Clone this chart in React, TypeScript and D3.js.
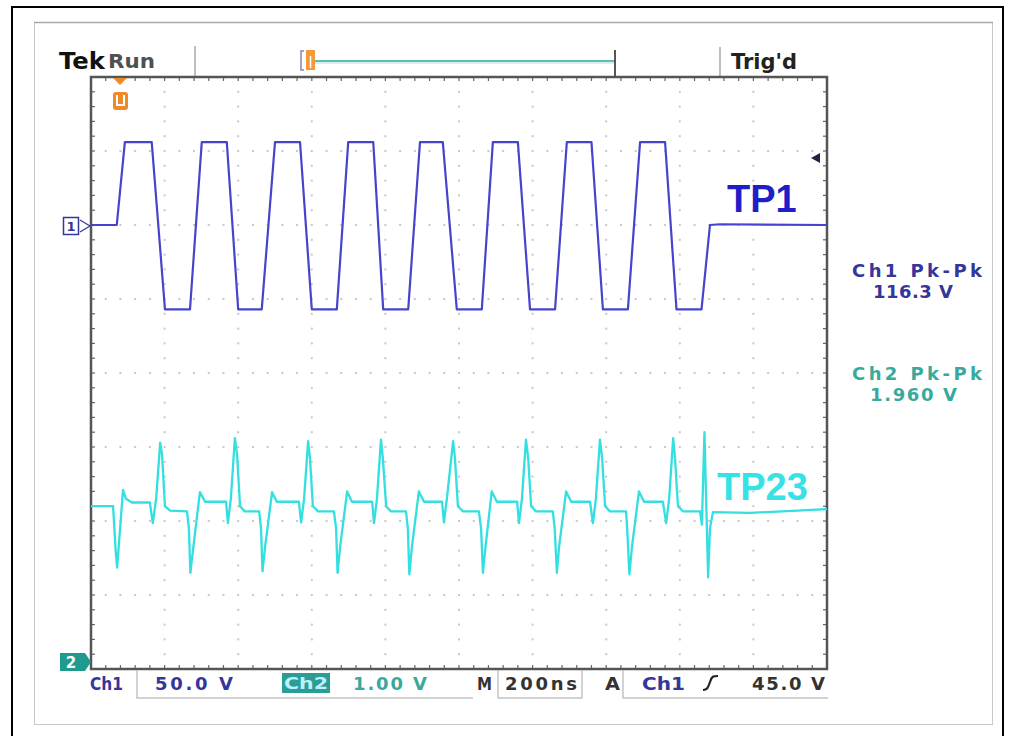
import React from "react";
import * as d3 from "d3";

// ---- Data read from the scope capture ----
// Channel 1 (TP1): time in ns from left edge of screen, volts
const ch1Time = [0, 70, 92, 165, 201, 269, 301, 369, 400, 464, 500, 568, 600, 668, 699, 767, 794, 862, 894, 956, 994, 1062, 1092, 1160, 1193, 1261, 1293, 1360, 1391, 1459, 1492, 1560, 1591, 1659, 1682, 1709, 2000];
const ch1Volts = [0, 0, 56, 56, -57, -57, 56, 56, -57, -57, 56, 56, -57, -57, 56, 56, -57, -57, 56, 56, -57, -57, 56, 56, -57, -57, 56, 56, -57, -57, 56, 56, -57, -57, 0, 0.5, 0];

// Channel 2 (TP23): time in ns, volts (relative to trace baseline)
const ch2Time = [
  0, 60, 67, 71, 76, 87, 95, 111, 160,
  168, 177, 188, 193, 201, 215, 261,
  266, 270, 277, 296, 310, 367,
  372, 380, 391, 397, 405, 418, 457,
  462, 466, 473, 492, 505, 565,
  571, 579, 590, 595, 603, 617, 660,
  666, 670, 677, 696, 709, 764,
  769, 777, 788, 793, 802, 815, 856,
  861, 865, 872, 891, 905, 954,
  959, 967, 984, 989, 997, 1011, 1054,
  1060, 1065, 1072, 1089, 1103, 1158,
  1163, 1171, 1182, 1188, 1196, 1209, 1255,
  1260, 1266, 1272, 1291, 1305, 1356,
  1364, 1372, 1383, 1389, 1397, 1410, 1454,
  1457, 1463, 1470, 1489, 1503, 1554,
  1563, 1571, 1582, 1587, 1595, 1609, 1655,
  1660, 1667, 1671, 1677, 1682, 1690, 1791, 2000,
];
const ch2Volts = [
  0, 0, -0.6, -0.83, -0.5, 0.22, 0.1, 0.05, 0.05,
  -0.23, 0.1, 0.86, 0.7, 0.0, -0.06, -0.07,
  -0.3, -0.9, -0.6, 0.19, 0.06, 0.06,
  -0.23, 0.1, 0.92, 0.7, 0.0, -0.07, -0.07,
  -0.3, -0.88, -0.55, 0.19, 0.06, 0.06,
  -0.22, 0.1, 0.88, 0.65, 0.0, -0.07, -0.07,
  -0.3, -0.9, -0.55, 0.2, 0.06, 0.06,
  -0.23, 0.1, 0.9, 0.65, 0.0, -0.07, -0.07,
  -0.3, -0.92, -0.55, 0.2, 0.06, 0.06,
  -0.22, 0.1, 0.88, 0.65, 0.0, -0.07, -0.07,
  -0.3, -0.9, -0.55, 0.2, 0.06, 0.06,
  -0.23, 0.1, 0.9, 0.65, 0.0, -0.07, -0.07,
  -0.3, -0.9, -0.55, 0.2, 0.06, 0.06,
  -0.23, 0.1, 0.9, 0.65, 0.0, -0.07, -0.07,
  -0.3, -0.92, -0.55, 0.2, 0.06, 0.06,
  -0.23, 0.1, 0.92, 0.65, 0.0, -0.07, -0.07,
  -0.25, 1.0, 0.2, -0.96, -0.3, -0.08, -0.09, -0.04,
];

const traceLabels = ["TP1", "TP23"];
const measLabels = ["Ch1 Pk-Pk", "116.3 V", "Ch2 Pk-Pk", "1.960 V"];
const statusTexts = ["Ch1", "50.0 V", "Ch2", "1.00 V", "M", "200ns", "A", "Ch1", "45.0 V"];

const W = 1010;
const H = 736;
const L = 91, R = 827, T = 77, B = 669;
const NX = 10, NY = 8;

const CH1 = "#4545cc";
const CH2 = "#33dfe0";
const DARKBLUE = "#35359a";
const TEAL = "#3aa99d";
const FONT = "'DejaVu Sans', Verdana, sans-serif";

export default function App() {
  const x = d3.scaleLinear().domain([0, 2000]).range([L, R]);
  const y1 = d3.scaleLinear().domain([-300, 100]).range([B, T]);
  const y2 = d3.scaleLinear().domain([-2.2, 5.8]).range([B, T]);

  const ch1 = ch1Time.map((t, i) => [t, ch1Volts[i]] as [number, number]);
  const ch2 = ch2Time.map((t, i) => [t, ch2Volts[i]] as [number, number]);
  const line1 = d3.line<[number, number]>().x((d) => x(d[0])).y((d) => y1(d[1]));
  const line2 = d3.line<[number, number]>().x((d) => x(d[0])).y((d) => y2(d[1]));

  const dx = (R - L) / NX;
  const dy = (B - T) / NY;

  // grid dots
  const dots: JSX.Element[] = [];
  for (let i = 1; i < NX; i++) {
    const gx = L + i * dx;
    for (let k = 1; k < NY * 5; k++) {
      const gy = T + (k * dy) / 5;
      dots.push(<rect key={`v${i}-${k}`} x={gx - 1} y={gy - 1} width={2} height={2} fill="#c8c8c8" />);
    }
  }
  for (let j = 1; j < NY; j++) {
    const gy = T + j * dy;
    for (let k = 1; k < NX * 5; k++) {
      const gx = L + (k * dx) / 5;
      if (k % 5 === 0) continue;
      dots.push(<rect key={`h${j}-${k}`} x={gx - 1} y={gy - 1} width={2} height={2} fill="#c8c8c8" />);
    }
  }

  // frame ticks
  const ticks: JSX.Element[] = [];
  for (let k = 1; k < NX * 5; k++) {
    const gx = L + (k * dx) / 5;
    ticks.push(<line key={`tt${k}`} x1={gx} x2={gx} y1={T} y2={T + 4} stroke="#666" strokeWidth={1.2} />);
    ticks.push(<line key={`tb${k}`} x1={gx} x2={gx} y1={B} y2={B - 4} stroke="#666" strokeWidth={1.2} />);
  }
  for (let k = 1; k < NY * 5; k++) {
    const gy = T + (k * dy) / 5;
    ticks.push(<line key={`tl${k}`} x1={L} x2={L + 4} y1={gy} y2={gy} stroke="#666" strokeWidth={1.2} />);
    ticks.push(<line key={`tr${k}`} x1={R} x2={R - 4} y1={gy} y2={gy} stroke="#666" strokeWidth={1.2} />);
  }

  const st = { fontFamily: FONT, fontWeight: 700 as const, fontSize: 18 };

  return (
    <svg width={W} height={H} style={{ position: "absolute", left: 0, top: 0, background: "#fff" }}>
      <rect x={0} y={0} width={W} height={H} fill="#fff" />
      {/* outer black frame */}
      <line x1={11} x2={1004} y1={7} y2={7} stroke="#000" strokeWidth={2} />
      <line x1={12} x2={12} y1={6} y2={H} stroke="#000" strokeWidth={2} />
      <line x1={1003} x2={1003} y1={6} y2={H} stroke="#000" strokeWidth={2} />
      {/* inner panel */}
      <rect x={34.5} y={22.5} width={958} height={702} fill="#fff" stroke="#c8c8c8" strokeWidth={1} />
      <line x1={34} x2={993} y1={22.5} y2={22.5} stroke="#a8a8a8" strokeWidth={1.5} />

      {/* header */}
      <text x={59} y={69} fontFamily={FONT} fontWeight={700} fontSize={23} fill="#111" textLength={46} lengthAdjust="spacingAndGlyphs">Tek</text>
      <text x={108} y={68} fontFamily={FONT} fontWeight={700} fontSize={20} fill="#505050" textLength={47} lengthAdjust="spacingAndGlyphs">Run</text>
      <line x1={195} x2={195} y1={46} y2={T} stroke="#aaa" strokeWidth={1.5} />
      <path d="M304,51 H301 V70 H304" fill="none" stroke="#8a80c0" strokeWidth={1.5} />
      <rect x={306} y={50} width={9} height={20} fill="#f39a3c" />
      <line x1={310.5} x2={310.5} y1={56} y2={68} stroke="#fff" strokeWidth={1.5} />
      <line x1={315} x2={615} y1={61} y2={61} stroke="#5fbcb2" strokeWidth={2} />
      <line x1={315} x2={615} y1={63} y2={63} stroke="#c6ece8" strokeWidth={1.5} />
      <line x1={615} x2={615} y1={50} y2={T} stroke="#555" strokeWidth={2} />
      <line x1={720} x2={720} y1={47} y2={T} stroke="#aaa" strokeWidth={1.5} />
      <text x={731} y={69} fontFamily={FONT} fontWeight={700} fontSize={21} fill="#222" textLength={66} lengthAdjust="spacingAndGlyphs">Trig'd</text>

      {/* grid */}
      {dots}
      {ticks}
      <rect x={L} y={T} width={R - L} height={B - T} fill="none" stroke="#555" strokeWidth={2.5} />

      {/* trigger position marker */}
      <path d="M113,78 L127,78 L120,85 Z" fill="#f0892a" />
      <rect x={113} y={92} width={15} height={18} rx={3} fill="#f0892a" />
      <path d="M117,95 V105 H124 V95" fill="none" stroke="#fff" strokeWidth={2} />

      {/* traces */}
      <path d={line1(ch1) || ""} fill="none" stroke={CH1} strokeWidth={2.2} strokeLinejoin="round" />
      <path d={line2(ch2) || ""} fill="none" stroke={CH2} strokeWidth={2.3} strokeLinejoin="round" />

      {/* channel ground markers */}
      <rect x={63.5} y={217.5} width={15} height={17} fill="#fff" stroke={DARKBLUE} strokeWidth={1.5} />
      <text x={71} y={231} textAnchor="middle" fontFamily={FONT} fontWeight={700} fontSize={13} fill={DARKBLUE}>1</text>
      <path d="M80,220 L90,226 L80,232" fill="none" stroke={DARKBLUE} strokeWidth={1.2} />
      <path d="M60,653 H85 L91,662 L85,671 H60 Z" fill="#1f9a8e" />
      <text x={71} y={668} textAnchor="middle" fontFamily={FONT} fontWeight={700} fontSize={15} fill="#fff">2</text>

      {/* trigger level arrow */}
      <path d="M811,158 L820,153 L820,163 Z" fill="#222244" />

      {/* trace labels */}
      <text x={727} y={212} fontFamily="'Liberation Sans', Arial, sans-serif" fontWeight={700} fontSize={38} fill="#1f1fc8">{traceLabels[0]}</text>
      <text x={717} y={500} fontFamily="'Liberation Sans', Arial, sans-serif" fontWeight={700} fontSize={38} fill="#36e2e6">{traceLabels[1]}</text>

      {/* measurements */}
      <text x={852} y={277} {...st} fill={DARKBLUE} textLength={130} lengthAdjust="spacing">{measLabels[0]}</text>
      <text x={873} y={298} {...st} fill={DARKBLUE} textLength={80} lengthAdjust="spacing">{measLabels[1]}</text>
      <text x={852} y={380} {...st} fill={TEAL} textLength={130} lengthAdjust="spacing">{measLabels[2]}</text>
      <text x={870} y={401} {...st} fill={TEAL} textLength={87} lengthAdjust="spacing">{measLabels[3]}</text>

      {/* status bar */}
      <text x={90} y={690} {...st} fill={DARKBLUE} textLength={33} lengthAdjust="spacingAndGlyphs">{statusTexts[0]}</text>
      <path d="M137,670 V698 H473" fill="none" stroke="#c4c4c4" strokeWidth={1.5} />
      <text x={155} y={690} {...st} fill={DARKBLUE} textLength={78} lengthAdjust="spacing">{statusTexts[1]}</text>
      <rect x={282} y={673} width={48} height={20} fill="#2a9d94" />
      <text x={284} y={689} {...st} fontSize={16} fill="#bfefff" textLength={44} lengthAdjust="spacingAndGlyphs">{statusTexts[2]}</text>
      <text x={353} y={690} {...st} fill={TEAL} textLength={74} lengthAdjust="spacing">{statusTexts[3]}</text>
      <text x={477} y={690} {...st} fill="#333" textLength={15} lengthAdjust="spacingAndGlyphs">{statusTexts[4]}</text>
      <path d="M498,670 V698 H582 V670" fill="none" stroke="#c4c4c4" strokeWidth={1.5} />
      <text x={505} y={690} {...st} fill="#333" textLength={72} lengthAdjust="spacing">{statusTexts[5]}</text>
      <text x={605} y={690} {...st} fill="#333" textLength={15} lengthAdjust="spacingAndGlyphs">{statusTexts[6]}</text>
      <path d="M623,670 V698 H828" fill="none" stroke="#c4c4c4" strokeWidth={1.5} />
      <text x={642} y={690} {...st} fill={DARKBLUE} textLength={43} lengthAdjust="spacingAndGlyphs">{statusTexts[7]}</text>
      <path d="M703,690 C707,690 708,688 710,682 C712,676 713,676 718,676" fill="none" stroke="#222" strokeWidth={2.2} />
      <text x={752} y={690} {...st} fill="#333" textLength={73} lengthAdjust="spacing">{statusTexts[8]}</text>
    </svg>
  );
}
